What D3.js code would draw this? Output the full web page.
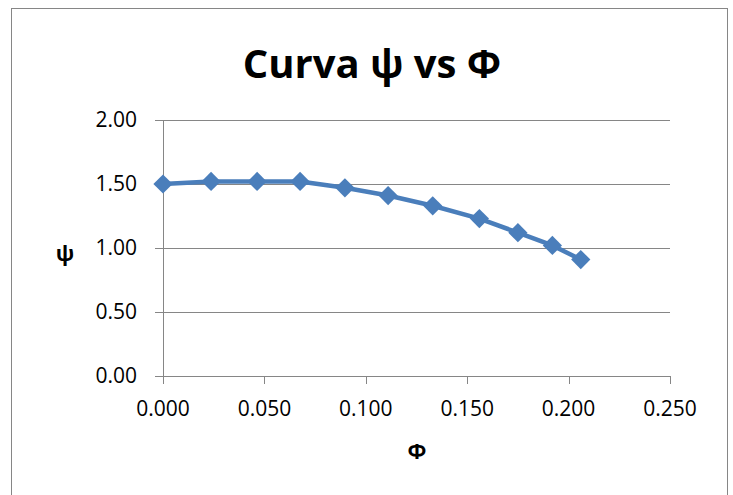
<!DOCTYPE html>
<html>
<head>
<meta charset="utf-8">
<script src="https://cdn.jsdelivr.net/npm/d3@7"></script>
<style>
  html, body { margin: 0; padding: 0; background: #fff; }
  svg text { font-family: "Open Sans", "DejaVu Sans", sans-serif; fill: #000; }
</style>
</head>
<body>
<div id="chart"></div>
<script>
(function(){
  // Values.
  const phiValues = [0, 0.0237, 0.0464, 0.0676, 0.0897, 0.1110, 0.1330, 0.1560, 0.1750, 0.1920, 0.2060];
  const psiValues = [1.50, 1.52, 1.52, 1.52, 1.47, 1.41, 1.33, 1.23, 1.12, 1.02, 0.91];
  const xTicks = [0, 0.05, 0.10, 0.15, 0.20, 0.25];
  const yTicks = [0, 0.5, 1.0, 1.5, 2.0];

  const data = phiValues.map((x, i) => ({x, y: psiValues[i]}));

  const width = 733, height = 495;
  const plotLeft = 163, plotRight = 670, plotTop = 120, plotBottom = 376;
  const grey = '#868686';
  const blue = '#4a7ebb';

  const svg = d3.select('#chart').append('svg')
    .attr('width', width).attr('height', height);

  // Chart area frame.
  svg.append('rect')
    .attr('x', 11.5).attr('y', 8.5)
    .attr('width', 716).attr('height', 500)
    .attr('fill', '#fff').attr('stroke', grey).attr('stroke-width', 1);

  const x = d3.scaleLinear().domain([0, 0.25]).range([plotLeft, plotRight]);
  const y = d3.scaleLinear().domain([0, 2]).range([plotBottom, plotTop]);

  // Horizontal gridlines (also serve as the left tick marks).
  svg.append('g').selectAll('line')
    .data(yTicks)
    .join('line')
    .attr('x1', plotLeft - 8).attr('x2', plotRight)
    .attr('y1', d => Math.round(y(d)) + 0.5).attr('y2', d => Math.round(y(d)) + 0.5)
    .attr('stroke', grey).attr('stroke-width', 1);

  // Y axis line.
  svg.append('line')
    .attr('x1', plotLeft + 0.5).attr('x2', plotLeft + 0.5)
    .attr('y1', plotTop).attr('y2', plotBottom + 8)
    .attr('stroke', grey);

  // X tick marks below the axis.
  svg.append('g').selectAll('line')
    .data(xTicks)
    .join('line')
    .attr('x1', d => Math.round(x(d)) + 0.5).attr('x2', d => Math.round(x(d)) + 0.5)
    .attr('y1', plotBottom).attr('y2', plotBottom + 8)
    .attr('stroke', grey);

  // Tick labels.
  svg.append('g').selectAll('text')
    .data(yTicks)
    .join('text')
    .attr('x', 137).attr('y', d => y(d))
    .attr('dy', '0.35em')
    .attr('text-anchor', 'end')
    .attr('font-size', 21)
    .text(d3.format('.2f'));

  svg.append('g').selectAll('text')
    .data(xTicks)
    .join('text')
    .attr('x', d => x(d)).attr('y', 409)
    .attr('dy', '0.35em')
    .attr('text-anchor', 'middle')
    .attr('font-size', 21)
    .text(d3.format('.3f'));

  // Title and axis titles.
  svg.append('text')
    .attr('x', 372).attr('y', 78)
    .attr('text-anchor', 'middle')
    .attr('font-size', 40).attr('font-weight', 'bold')
    .text('Curva ψ vs Φ');

  svg.append('text')
    .attr('x', 65).attr('y', 253)
    .attr('dy', '0.35em')
    .attr('text-anchor', 'middle')
    .attr('font-size', 22).attr('font-weight', 'bold')
    .text('ψ');

  svg.append('text')
    .attr('x', 417).attr('y', 451)
    .attr('dy', '0.35em')
    .attr('text-anchor', 'middle')
    .attr('font-size', 22).attr('font-weight', 'bold')
    .text('Φ');

  // Series line.
  const line = d3.line().x(d => x(d.x)).y(d => y(d.y));
  svg.append('path')
    .datum(data)
    .attr('d', line)
    .attr('fill', 'none')
    .attr('stroke', blue)
    .attr('stroke-width', 4.5)
    .attr('stroke-linejoin', 'round');

  // Diamond markers (square rotated 45 degrees).
  const diamond = d3.symbol().type(d3.symbolSquare).size(185);
  svg.append('g').selectAll('path')
    .data(data)
    .join('path')
    .attr('d', diamond)
    .attr('transform', d => `translate(${x(d.x)},${y(d.y)}) rotate(45)`)
    .attr('fill', blue);
})();
</script>
</body>
</html>
